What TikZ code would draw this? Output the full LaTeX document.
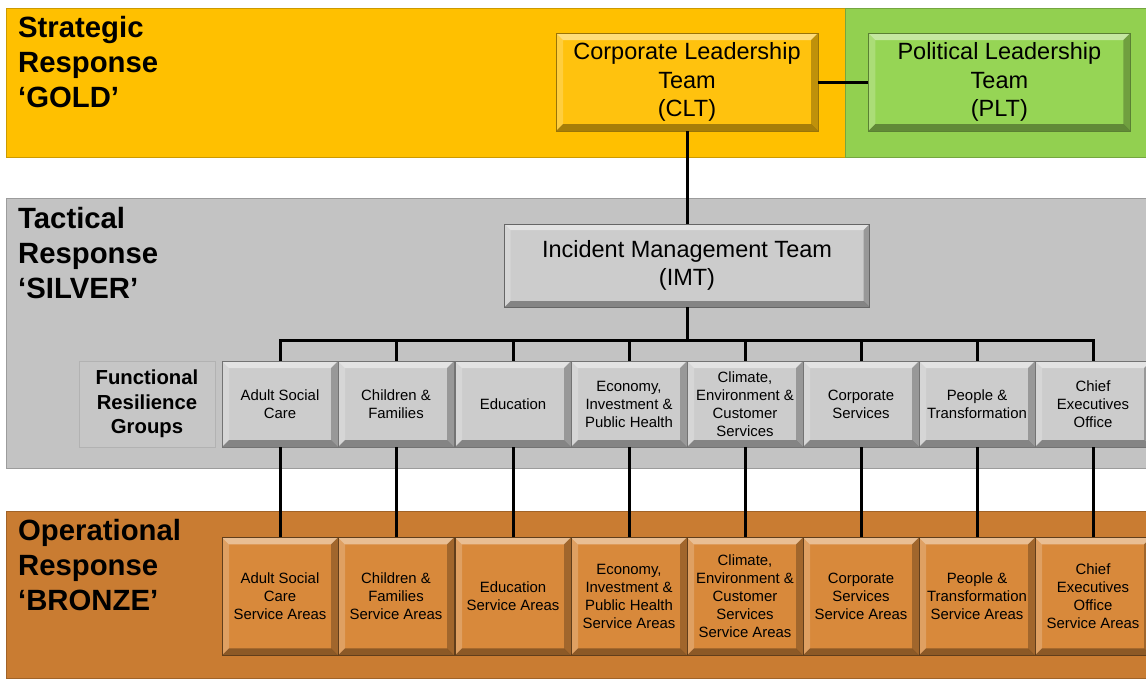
\documentclass[tikz,border=0pt]{standalone}
\usepackage{fontspec}
\setmainfont{Liberation Sans}
\usetikzlibrary{positioning}
\definecolor{goldband}{HTML}{FFC000}
\definecolor{goldbox}{HTML}{FFC20E}
\definecolor{greenband}{HTML}{92D050}
\definecolor{greenbox}{HTML}{96D555}
\definecolor{silverband}{HTML}{C3C3C3}
\definecolor{silverbox}{HTML}{CCCCCC}
\definecolor{bronzeband}{HTML}{C97C32}
\definecolor{bronzebox}{HTML}{D8893B}
% raised look of the boxes
\newcommand{\bevelfill}[1]{%
  \fill[white,opacity=0.45] (path picture bounding box.north west) -- (path picture bounding box.north east)
    -- ([shift={(-#1,-#1)}]path picture bounding box.north east) -- ([shift={(#1,-#1)}]path picture bounding box.north west) -- cycle;
  \fill[white,opacity=0.2] (path picture bounding box.north west) -- (path picture bounding box.south west)
    -- ([shift={(#1,#1)}]path picture bounding box.south west) -- ([shift={(#1,-#1)}]path picture bounding box.north west) -- cycle;
  \fill[black,opacity=0.35] (path picture bounding box.south west) -- (path picture bounding box.south east)
    -- ([shift={(-#1,#1)}]path picture bounding box.south east) -- ([shift={(#1,#1)}]path picture bounding box.south west) -- cycle;
  \fill[black,opacity=0.25] (path picture bounding box.north east) -- (path picture bounding box.south east)
    -- ([shift={(-#1,#1)}]path picture bounding box.south east) -- ([shift={(-#1,-#1)}]path picture bounding box.north east) -- cycle;
}
\tikzset{
  band/.style = {fill=#1, draw=#1!80!black, line width=0.8pt},
  bevel/.style = {path picture={\bevelfill{#1}}},
  levelname/.style = {anchor=north west, inner sep=0pt, align=left,
    font=\fontsize{29.3}{35}\selectfont\bfseries},
  topbox/.style = {draw=#1!60!black, fill=#1, bevel=7pt, align=center,
    minimum width=262pt, minimum height=98pt, inner sep=2pt,
    font=\fontsize{23.5}{28.5}\selectfont},
  imtbox/.style = {draw=black!60, fill=silverbox, bevel=6pt, align=center,
    minimum width=365pt, minimum height=83pt, font=\fontsize{23.5}{28}\selectfont},
  grp/.style = {draw=black!55, fill=silverbox, bevel=7pt, align=center,
    minimum width=116pt, minimum height=86pt, inner sep=1pt,
    font=\fontsize{14.9}{18}\selectfont},
  brz/.style = {grp, draw=bronzebox!45!black, fill=bronzebox, minimum height=118pt},
  frgbox/.style = {draw=black!30, fill=silverband!95!white, align=center,
    minimum width=136pt, minimum height=86pt,
    font=\fontsize{20.3}{24.5}\selectfont\bfseries},
  conn/.style = {line width=3pt, black}
}
\begin{document}
\begin{tikzpicture}[x=1pt, y={(0,-1pt)}]
\useasboundingbox (0,0) rectangle (1146,678);
\fill[white] (0,0) rectangle (1146,678);
% bands
\path[band=goldband] (6,8) rectangle (845,157);
\path[band=greenband] (845,8) rectangle (1146,157);
\path[band=silverband] (6,198) rectangle (1146,468);
\path[band=bronzeband] (6,511) rectangle (1146,678);

\node[levelname] (gold) at (18,16) {Strategic\\Response\\‘GOLD’};
\node[levelname] (silver) at (18,207) {Tactical\\Response\\‘SILVER’};
\node[levelname] (bronze) at (18,519) {Operational\\Response\\‘BRONZE’};

% strategic and tactical teams
\node[topbox=goldbox] (clt) at (687,82) {Corporate Leadership\\Team\\(CLT)};
\node[topbox=greenbox, right=50pt of clt] (plt) {Political Leadership\\Team\\(PLT)};
\node[imtbox] (imt) at (687,265.5) {Incident Management Team\\(IMT)};
\node[frgbox] (frg) at (147,404) {Functional\\Resilience\\Groups};

\foreach \n/\x/\t in {1/280/{Adult Social\\Care}, 2/396/{Children \&\\Families},
  3/513/{Education}, 4/629/{Economy,\\Investment \&\\Public Health},
  5/745/{Climate,\\Environment \&\\Customer\\Services}, 6/861/{Corporate\\Services},
  7/977/{People \&\\Transformation}, 8/1093/{Chief\\Executives\\Office}}
{
  \node[grp] (g\n) at (\x,404) {\t};
  \node[brz, below=90pt of g\n] (b\n) {\t\\Service Areas};
}

% connectors
\coordinate (bus) at (687,340);
\draw[conn] (clt) -- (plt);
\draw[conn] (clt) -- (imt);
\draw[conn] (imt) -- (bus);
\foreach \n in {1,...,8}
{
  \draw[conn] (bus) -| (g\n);
  \draw[conn] (g\n) -- (b\n);
}
\end{tikzpicture}
\end{document}
